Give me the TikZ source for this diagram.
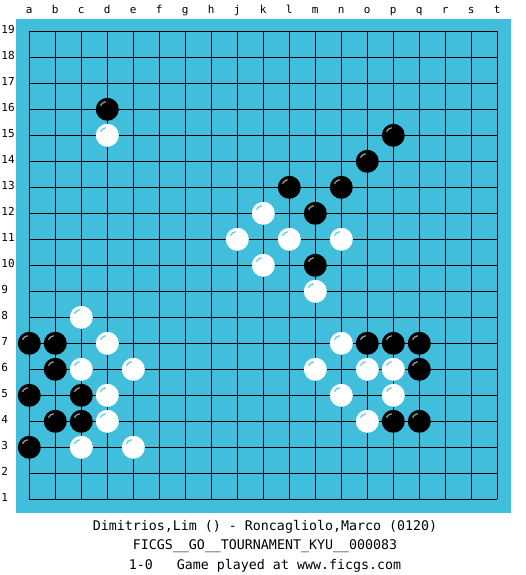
\documentclass[tikz,border=0pt]{standalone}
\usepackage{fontspec}
\setmonofont{DejaVu Sans Mono}
\definecolor{boardblue}{RGB}{64,190,220}
\definecolor{hlwhite}{RGB}{90,200,230}
\definecolor{hlblack}{RGB}{160,160,160}
\tikzset{
  bstone/.style={circle, fill=black, minimum size=23pt, inner sep=0pt},
  wstone/.style={circle, fill=white, minimum size=23pt, inner sep=0pt},
  hlb/.style={draw=hlblack, line width=1.2pt},
  hlw/.style={draw=hlwhite, line width=1.2pt},
  gridline/.style={line width=1pt, black},
  coordlabel/.style={font=\ttfamily\fontsize{11}{11}\selectfont, inner sep=0pt, anchor=base},
  caption/.style={font=\ttfamily\fontsize{13.3}{14}\selectfont, inner sep=0pt, anchor=base}
}
\begin{document}
\begin{tikzpicture}[x=1pt,y=-1pt]
\useasboundingbox (0,0) rectangle (525,575);
\fill[white] (0,0) rectangle (525,575);
\fill[boardblue] (16,18.7) rectangle (511,512.7);
% column letters
\foreach \l [count=\i] in {a,b,c,d,e,f,g,h,j,k,l,m,n,o,p,q,r,s,t}
  \node[coordlabel] (col-\i) at ({29.3+(\i-1)*26},14) {\l};
% row numbers
\foreach \r in {1,...,19}
  \node[coordlabel, anchor=base west] (row-\r) at (1.3,{31.3+(19-\r)*26+1.8}) {\r};
\begin{scope}[shift={(3.3,525.3)}, x=26pt, y=26pt]
  \foreach \i in {1,...,19} {
    \draw[gridline] (\i,1) -- (\i,19);
    \draw[gridline] (1,\i) -- (19,\i);
  }
  % black stones
  \foreach \c/\r in {4/16, 15/15, 14/14, 11/13, 13/13, 12/12, 12/10,
                     1/7, 2/7, 2/6, 1/5, 3/5, 2/4, 3/4, 1/3,
                     14/7, 15/7, 16/7, 16/6, 15/4, 16/4} {
    \node[bstone] (b-\c-\r) at (\c,\r) {};
    \draw[hlb] (b-\c-\r.center) ++(152:7.8pt) arc[start angle=152, end angle=102, radius=7.8pt];
  }
  % white stones
  \foreach \c/\r in {4/15, 10/12, 9/11, 11/11, 13/11, 10/10, 12/9,
                     3/8, 4/7, 3/6, 5/6, 4/5, 4/4, 3/3, 5/3,
                     13/7, 12/6, 14/6, 15/6, 13/5, 15/5, 14/4} {
    \node[wstone] (w-\c-\r) at (\c,\r) {};
    \draw[hlw] (w-\c-\r.center) ++(152:7.8pt) arc[start angle=152, end angle=102, radius=7.8pt];
  }
\end{scope}
\node[caption] (cap1) at (265,530) {Dimitrios,Lim () - Roncagliolo,Marco (0120)};
\node[caption] (cap2) at (265,549.3) {FICGS\_\_GO\_\_TOURNAMENT\_KYU\_\_000083};
\node[caption] (cap3) at (265,569.3) {1-0\ \ \ Game played at www.ficgs.com};
\end{tikzpicture}
\end{document}
